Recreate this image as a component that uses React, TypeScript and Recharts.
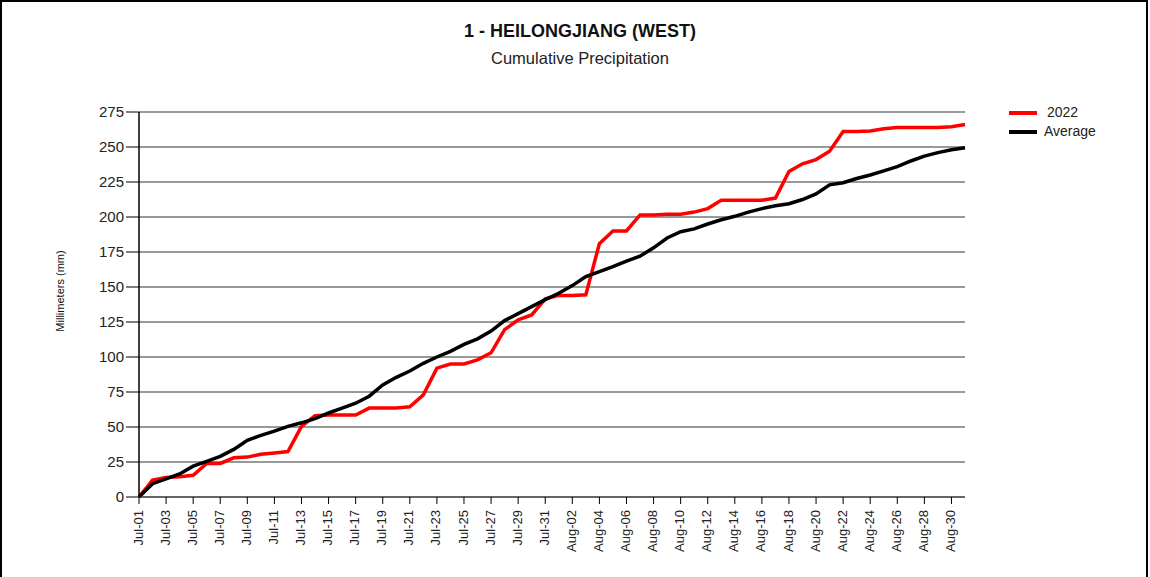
import React from "react";
import { LineChart, Line, XAxis, YAxis, CartesianGrid, Legend } from "recharts";

const dates: string[] = [
  "Jul-01","Jul-02","Jul-03","Jul-04","Jul-05","Jul-06","Jul-07","Jul-08","Jul-09","Jul-10",
  "Jul-11","Jul-12","Jul-13","Jul-14","Jul-15","Jul-16","Jul-17","Jul-18","Jul-19","Jul-20",
  "Jul-21","Jul-22","Jul-23","Jul-24","Jul-25","Jul-26","Jul-27","Jul-28","Jul-29","Jul-30",
  "Jul-31","Aug-01","Aug-02","Aug-03","Aug-04","Aug-05","Aug-06","Aug-07","Aug-08","Aug-09",
  "Aug-10","Aug-11","Aug-12","Aug-13","Aug-14","Aug-15","Aug-16","Aug-17","Aug-18","Aug-19",
  "Aug-20","Aug-21","Aug-22","Aug-23","Aug-24","Aug-25","Aug-26","Aug-27","Aug-28","Aug-29",
  "Aug-30","Aug-31",
];

const values2022: number[] = [
  0, 12, 14, 14.5, 15.5, 24, 24, 28, 28.5, 30.5,
  31.5, 32.5, 50.5, 58, 58.5, 58.5, 58.5, 63.5, 63.5, 63.5,
  64.5, 73, 92, 95, 95, 98, 103, 119.5, 126.5, 130,
  141.5, 144, 144, 144.5, 181, 190, 190, 201.5, 201.5, 202,
  202, 203.5, 206, 212, 212, 212, 212, 213.5, 232.5, 238,
  241, 247, 261, 261, 261.5, 263, 264, 264, 264, 264,
  264.5, 266,
];

const valuesAverage: number[] = [
  0, 9.5, 13, 16.5, 22, 25.5, 29, 34, 40.5, 44,
  47, 50.5, 53, 56, 60, 63.5, 67, 72, 80, 85.5,
  90, 95.5, 100, 104, 109, 113, 118.5, 126, 131, 136,
  141, 145.5, 151, 157.5, 161, 164.5, 168.5, 172, 178, 185,
  189.5, 191.5, 195, 198, 200.5, 203.5, 206, 208, 209.5, 212.5,
  216.5, 223, 224.5, 227.5, 230, 233, 236, 240, 243.5, 246,
  248, 249.5,
];

const yTicks: number[] = [0, 25, 50, 75, 100, 125, 150, 175, 200, 225, 250, 275];

const seriesNames = { a: "2022", b: "Average" };

const data = dates.map((d, i) => ({ date: d, y2022: values2022[i], avg: valuesAverage[i] }));

const FONT = "'Liberation Sans', Arial, sans-serif";

const XTick = (props: any) => {
  const { x, y, payload } = props;
  return (
    <g transform={`translate(${x},${y})`}>
      <text
        transform="rotate(-90)"
        textAnchor="end"
        dy="0.35em"
        x={-2}
        y={-1}
        fontSize={13}
        fontFamily={FONT}
        fill="#222"
      >
        {payload.value}
      </text>
    </g>
  );
};

const YLabel = () => (
  <text
    x={60}
    y={291}
    transform="rotate(-90, 60, 291)"
    textAnchor="middle"
    dominantBaseline="central"
    fontSize={11}
    fontFamily={FONT}
    fill="#111"
  >
    Millimeters (mm)
  </text>
);

const LegendContent = () => (
  <div style={{ fontFamily: FONT, fontSize: 14, color: "#222", lineHeight: "19px" }}>
    <div style={{ display: "flex", alignItems: "center" }}>
      <span style={{ display: "inline-block", width: 28, height: 4, background: "#ff0000", marginRight: 10 }} />
      <span>{seriesNames.a}</span>
    </div>
    <div style={{ display: "flex", alignItems: "center" }}>
      <span style={{ display: "inline-block", width: 28, height: 4, background: "#000000", marginRight: 7 }} />
      <span>{seriesNames.b}</span>
    </div>
  </div>
);

export default function App() {
  return (
    <div style={{ position: "absolute", left: 0, top: 0, width: 1150, height: 577, background: "#fff" }}>
      <div
        style={{
          position: "absolute",
          left: 0,
          top: 0,
          width: 1148,
          height: 577,
          borderTop: "2px solid #000",
          borderLeft: "2px solid #000",
          borderRight: "2px solid #000",
          boxSizing: "border-box",
          pointerEvents: "none",
        }}
      />
      <div
        style={{
          position: "absolute",
          left: 0,
          width: 1160,
          top: 21,
          textAlign: "center",
          fontFamily: FONT,
          fontWeight: "bold",
          fontSize: 18,
          color: "#111",
        }}
      >
        1 - HEILONGJIANG (WEST)
      </div>
      <div
        style={{
          position: "absolute",
          left: 0,
          width: 1160,
          top: 49,
          textAlign: "center",
          fontFamily: FONT,
          fontSize: 16.5,
          color: "#222",
        }}
      >
        Cumulative Precipitation
      </div>
      <div style={{ position: "absolute", left: 0, top: 0 }}>
        <LineChart width={1150} height={577} data={data} margin={{ top: 112, right: 185, bottom: 20, left: 0 }}>
          <CartesianGrid vertical={false} stroke="#333" strokeWidth={1} />
          <XAxis
            dataKey="date"
            interval={1}
            height={60}
            tickSize={7}
            tickMargin={4}
            tick={<XTick />}
            axisLine={{ stroke: "#333" }}
            tickLine={{ stroke: "#000" }}
          />
          <YAxis
            width={139}
            domain={[0, 275]}
            ticks={yTicks}
            interval={0}
            tickSize={13}
            tickMargin={2}
            axisLine={{ stroke: "#000", strokeWidth: 1.5 }}
            tickLine={{ stroke: "#000" }}
            tick={{ fontSize: 15, fontFamily: FONT, fill: "#222" }}
            label={<YLabel />}
          />
          <Legend
            layout="vertical"
            align="center"
            verticalAlign="middle"
            content={<LegendContent />}
            wrapperStyle={{ left: 1009, top: 103, width: 120 }}
          />
          <Line
            type="linear"
            dataKey="y2022"
            name={seriesNames.a}
            stroke="#ff0000"
            strokeWidth={3.5}
            dot={false}
            isAnimationActive={false}
          />
          <Line
            type="linear"
            dataKey="avg"
            name={seriesNames.b}
            stroke="#000000"
            strokeWidth={3.5}
            dot={false}
            isAnimationActive={false}
          />
        </LineChart>
      </div>
    </div>
  );
}
